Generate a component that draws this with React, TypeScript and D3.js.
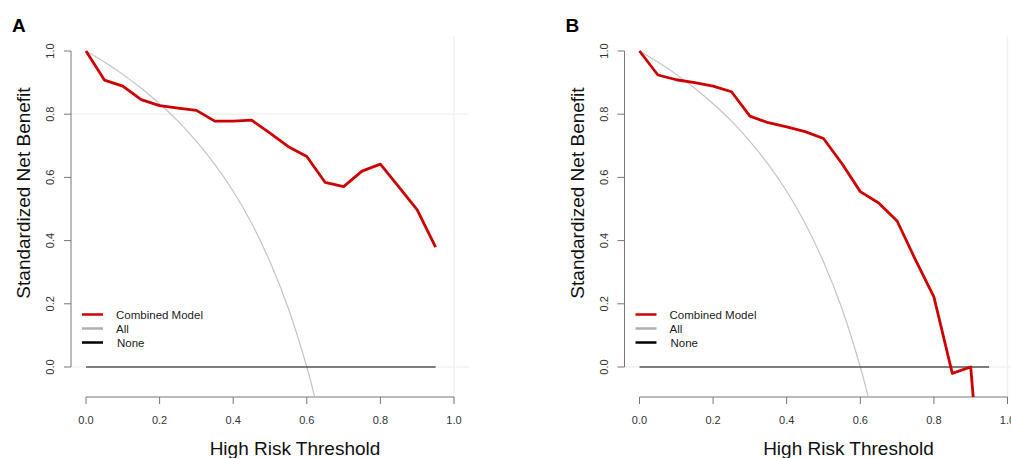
import React from "react";
import * as d3 from "d3";

const thresholds = [0, 0.05, 0.1, 0.15, 0.2, 0.25, 0.3, 0.35, 0.4, 0.45, 0.5, 0.55, 0.6, 0.65, 0.7, 0.75, 0.8, 0.85, 0.9, 0.95];
const modelA = [1.0, 0.908, 0.889, 0.846, 0.827, 0.819, 0.812, 0.778, 0.778, 0.781, 0.74, 0.697, 0.666, 0.584, 0.571, 0.62, 0.642, 0.57, 0.497, 0.379];
const modelB = [1.0, 0.924, 0.909, 0.9, 0.889, 0.871, 0.794, 0.773, 0.76, 0.745, 0.723, 0.644, 0.555, 0.519, 0.462, 0.339, 0.222, -0.02, 0.0, -0.7];
const allX = [0, 0.05, 0.1, 0.15, 0.2, 0.25, 0.3, 0.35, 0.4, 0.45, 0.5, 0.55, 0.6, 0.62, 0.65];
const allY = [1.0, 0.965, 0.926, 0.882, 0.833, 0.778, 0.714, 0.641, 0.556, 0.455, 0.333, 0.185, 0.0, -0.088, -0.238];
const noneX = [0, 0.95];
const noneY = [0, 0];
const xTicks = [0, 0.2, 0.4, 0.6, 0.8, 1.0];
const yTicks = [0, 0.2, 0.4, 0.6, 0.8, 1.0];
const legendLabels = ["Combined Model", "All", "None"];
const panelLabels = ["A", "B"];

const FONT = "'Liberation Sans', Arial, sans-serif";

type PanelProps = { ox: number; label: string; model: number[]; id: string; gridH: boolean };

function Panel({ ox, label, model, id, gridH }: PanelProps) {
  const axisX = ox + 71;
  const x = d3.scaleLinear().domain([0, 1]).range([ox + 86, ox + 454]);
  const y = d3.scaleLinear().domain([0, 1]).range([367, 51]);
  const plotBottom = 397;
  const line = d3.line<[number, number]>().x((d) => x(d[0])).y((d) => y(d[1]));
  const smooth = d3.line<[number, number]>().x((d) => x(d[0])).y((d) => y(d[1])).curve(d3.curveCatmullRom);
  const modelPts = thresholds.map((t, i) => [t, model[i]] as [number, number]);
  const allPts = allX.map((t, i) => [t, allY[i]] as [number, number]);
  const nonePts = noneX.map((t, i) => [t, noneY[i]] as [number, number]);
  const legendColors = ["#cc0000", "#b0b0b0", "#000000"];
  const legendWidths = [2.5, 2.5, 2.5];
  return (
    <g>
      <defs>
        <clipPath id={id}>
          <rect x={axisX} y={36} width={x(1) - axisX + 16} height={plotBottom - 36} />
        </clipPath>
      </defs>
      <text x={ox + 12} y={32} fontFamily={FONT} fontWeight="bold" fontSize={19} fill="#000">{label}</text>
      {/* faint frame remnants */}
      <line x1={x(1)} x2={x(1)} y1={36} y2={plotBottom + 6} stroke="#f0f0f0" strokeWidth={1.5} />
      {gridH && <line x1={axisX} x2={x(1) + 15} y1={y(0.8)} y2={y(0.8)} stroke="#f2f2f2" strokeWidth={1.5} />}
      <line x1={axisX} x2={x(1) + 15} y1={y(0)} y2={y(0)} stroke="#f2f2f2" strokeWidth={1.5} />
      {/* y axis */}
      <line x1={axisX} x2={axisX} y1={y(1)} y2={y(0)} stroke="#777" strokeWidth={1} />
      {yTicks.map((t) => (
        <g key={t}>
          <line x1={axisX - 7} x2={axisX} y1={y(t)} y2={y(t)} stroke="#777" strokeWidth={1} />
          <text
            transform={`translate(${axisX - 17},${y(t)}) rotate(-90)`}
            textAnchor="middle"
            fontFamily={FONT}
            fontSize={11}
            fill="#333"
          >
            {t.toFixed(1)}
          </text>
        </g>
      ))}
      {/* x axis */}
      <line x1={x(0)} x2={x(1)} y1={plotBottom} y2={plotBottom} stroke="#777" strokeWidth={1} />
      {xTicks.map((t) => (
        <g key={t}>
          <line x1={x(t)} x2={x(t)} y1={plotBottom} y2={plotBottom + 7} stroke="#777" strokeWidth={1} />
          <text x={x(t)} y={424} textAnchor="middle" fontFamily={FONT} fontSize={11} fill="#333">
            {t.toFixed(1)}
          </text>
        </g>
      ))}
      <text x={ox + 295} y={455} textAnchor="middle" fontFamily={FONT} fontSize={19} fill="#111">
        High Risk Threshold
      </text>
      <text
        transform={`translate(${ox + 30},${193}) rotate(-90)`}
        textAnchor="middle"
        fontFamily={FONT}
        fontSize={19}
        fill="#111"
      >
        Standardized Net Benefit
      </text>
      <g clipPath={`url(#${id})`}>
        <path d={smooth(allPts) || ""} fill="none" stroke="#c4c4c4" strokeWidth={1.2} />
        <path d={line(nonePts) || ""} fill="none" stroke="#555" strokeWidth={1.3} />
        <path d={line(modelPts) || ""} fill="none" stroke="#cc0000" strokeWidth={2.8} strokeLinejoin="round" />
      </g>
      {/* legend */}
      {legendLabels.map((l, i) => (
        <g key={l}>
          <line x1={ox + 82} x2={ox + 103} y1={314.5 + i * 14} y2={314.5 + i * 14} stroke={legendColors[i]} strokeWidth={legendWidths[i]} />
          <text x={ox + 116 + (i === 2 ? 1 : 0)} y={318.5 + i * 14} fontFamily={FONT} fontSize={11.5} fill="#222">
            {l}
          </text>
        </g>
      ))}
    </g>
  );
}

export default function App() {
  return (
    <svg width={1011} height={458} style={{ position: "absolute", left: 0, top: 0, background: "#fff" }}>
      <rect x={0} y={0} width={1011} height={458} fill="#fff" />
      <Panel ox={0} label={panelLabels[0]} model={modelA} id="clipA" gridH={true} />
      <Panel ox={553.5} label={panelLabels[1]} model={modelB} id="clipB" gridH={false} />
    </svg>
  );
}
